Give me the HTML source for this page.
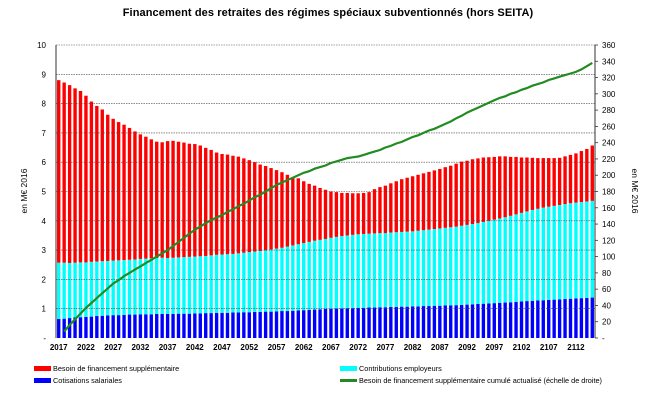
<!DOCTYPE html>
<html><head><meta charset="utf-8"><style>
body{margin:0;background:#fff;}
svg text{font-family:"Liberation Sans",sans-serif;}
</style></head><body>
<svg id="chart" width="665" height="415" xmlns="http://www.w3.org/2000/svg">
<text x="328" y="16" text-anchor="middle" font-size="11" font-weight="bold" letter-spacing="0.1">Financement  des retraites des régimes  spéciaux  subventionnés   (hors SEITA)</text>
<g id="bars"></g><g id="grid"></g><g id="axes"></g><g id="line"></g>
<text transform="translate(27,191) rotate(-90)" text-anchor="middle" font-size="8.5">en M€ 2016</text>
<text transform="translate(632,191) rotate(90)" text-anchor="middle" font-size="8.5">en M€ 2016</text>
<g font-size="7.3">
<rect x="34" y="366" width="17" height="5" fill="#ff0000"/>
<text x="53" y="371">Besoin de financement supplémentaire</text>
<rect x="34" y="378" width="17" height="5" fill="#0000ff"/>
<text x="53" y="383">Cotisations salariales</text>
<rect x="340" y="366" width="17" height="5" fill="#00ffff"/>
<text x="359" y="371">Contributions employeurs</text>
<rect x="340" y="379" width="17" height="3" fill="#228b22"/>
<text x="359" y="383">Besoin de financement supplémentaire cumulé actualisé (échelle de droite)</text>
</g>
</svg>
<script>
const startYear = 2017;
const totalBesoin = [8.80,8.72,8.63,8.52,8.43,8.27,8.07,7.92,7.80,7.62,
7.48,7.37,7.28,7.17,7.05,6.95,6.87,6.78,6.70,6.68,
6.72,6.73,6.70,6.67,6.63,6.62,6.57,6.49,6.42,6.33,
6.28,6.26,6.22,6.19,6.13,6.07,6.00,5.92,5.87,5.80,
5.73,5.66,5.57,5.47,5.45,5.35,5.26,5.20,5.12,5.06,
5.00,4.98,4.95,4.95,4.94,4.94,4.95,4.98,5.08,5.15,
5.20,5.28,5.35,5.42,5.47,5.52,5.57,5.62,5.67,5.72,
5.77,5.83,5.88,5.95,6.02,6.05,6.10,6.13,6.16,6.17,
6.18,6.20,6.20,6.18,6.18,6.16,6.16,6.15,6.14,6.14,
6.14,6.14,6.15,6.20,6.25,6.30,6.38,6.45,6.57];
const topContrib = [2.57,2.57,2.56,2.57,2.58,2.58,2.60,2.61,2.62,2.63,
2.64,2.65,2.66,2.67,2.68,2.70,2.71,2.72,2.73,2.74,
2.73,2.74,2.75,2.76,2.77,2.78,2.79,2.80,2.82,2.84,
2.85,2.86,2.87,2.89,2.91,2.93,2.95,2.97,2.99,3.02,
3.05,3.08,3.12,3.16,3.20,3.24,3.28,3.32,3.35,3.38,
3.42,3.45,3.48,3.50,3.52,3.54,3.55,3.56,3.57,3.58,
3.58,3.60,3.61,3.62,3.63,3.64,3.66,3.68,3.70,3.72,
3.74,3.76,3.78,3.80,3.83,3.86,3.89,3.92,3.96,4.00,
4.04,4.08,4.12,4.17,4.22,4.27,4.32,4.37,4.41,4.45,
4.48,4.51,4.54,4.57,4.60,4.62,4.64,4.66,4.68];
const cotisations = [0.65,0.66,0.68,0.70,0.71,0.72,0.73,0.75,0.76,0.77,
0.78,0.78,0.79,0.80,0.80,0.81,0.81,0.81,0.82,0.82,
0.82,0.82,0.83,0.83,0.83,0.84,0.84,0.85,0.85,0.86,
0.86,0.86,0.87,0.87,0.88,0.88,0.89,0.89,0.90,0.90,
0.91,0.92,0.92,0.93,0.94,0.95,0.96,0.97,0.98,0.99,
1.00,1.01,1.01,1.02,1.02,1.03,1.03,1.04,1.04,1.05,
1.05,1.06,1.06,1.07,1.07,1.08,1.08,1.09,1.09,1.10,
1.10,1.11,1.11,1.12,1.13,1.14,1.15,1.16,1.17,1.18,
1.19,1.20,1.21,1.22,1.23,1.25,1.26,1.27,1.28,1.29,
1.30,1.31,1.32,1.33,1.34,1.35,1.36,1.37,1.38];
const cumul = [null,8,16,23,30,37,43,49,55,61,
67,71,76,80,84,88,92,96,100,104,
108,113,118,123,128,133,137,141,145,148,
151,155,158,162,165,169,173,176,180,184,
188,191,194,197,200,203,205,208,210,212,
215,217,219,221,222,223,225,227,229,231,
234,236,239,241,244,247,249,252,255,257,
260,263,266,270,273,277,280,283,286,289,
292,295,297,300,302,305,307,310,312,314,
317,319,321,323,325,327,330,334,338];
const leftTicks = ["-","1","2","3","4","5","6","7","8","9","10"];
const rightTicks = ["-","20","40","60","80","100","120","140","160","180","200","220","240","260","280","300","320","340","360"];

const NS="http://www.w3.org/2000/svg";
const X0=56,X1=595,Y0=338,Y1=45;
const n=totalBesoin.length, slot=(X1-X0)/n;
const yL=v=>Y0-(v/10)*(Y0-Y1);
const yR=v=>Y0-(v/360)*(Y0-Y1);
const xC=i=>X0+slot*(i+0.5);
function mk(tag,attrs,parent){const e=document.createElementNS(NS,tag);for(const k in attrs)e.setAttribute(k,attrs[k]);document.getElementById(parent).appendChild(e);return e;}

for(let k=1;k<=10;k++){
 const g=mk('line',{x1:X0,x2:X1,y1:yL(k),y2:yL(k),stroke:'#444','stroke-width':0.6,'stroke-dasharray':'1.5,1'},'grid');
 
 
}
const bw=slot*0.62;
for(let i=0;i<n;i++){
 const parts=[[0,cotisations[i],'#0000ff','bar-cotisations'],[cotisations[i],topContrib[i],'#00ffff','bar-contributions'],[topContrib[i],totalBesoin[i],'#ff0000','bar-besoin']];
 for(const p of parts){
  const r=mk('rect',{x:xC(i)-bw/2,y:yL(p[1]),width:bw,height:yL(p[0])-yL(p[1]),fill:p[2]},'bars');
  
  
 }
}
const la=mk('line',{x1:X0,x2:X0,y1:Y1,y2:Y0,stroke:'#333','stroke-width':1},'axes');


const ra=mk('line',{x1:X1,x2:X1,y1:Y1,y2:Y0,stroke:'#333','stroke-width':1},'axes');


leftTicks.forEach((t,k)=>{
 const e=mk('text',{x:46,y:yL(k)+3,'text-anchor':'end','font-size':8},'axes');e.textContent=t;
 
 
});
rightTicks.forEach((t,k)=>{
 const v=k*20;
 const tk=mk('line',{x1:X1,x2:X1+3,y1:yR(v),y2:yR(v),stroke:'#333','stroke-width':0.8},'axes');
 
 
 const e=mk('text',{x:X1+7,y:yR(v)+3,'font-size':8},'axes');e.textContent=t;
 
 
});
for(let i=0;i<n;i+=5){
 const e=mk('text',{x:xC(i),y:350,'text-anchor':'middle','font-size':8,'font-weight':'bold'},'axes');e.textContent=String(startYear+i);
 
 
}
let d='';
cumul.forEach((v,i)=>{if(v===null)return;d+=(d?'L':'M')+xC(i).toFixed(1)+','+yR(v).toFixed(1);});
const pl=mk('path',{d:d,fill:'none',stroke:'#228b22','stroke-width':2.2},'line');


</script>
</body></html>
